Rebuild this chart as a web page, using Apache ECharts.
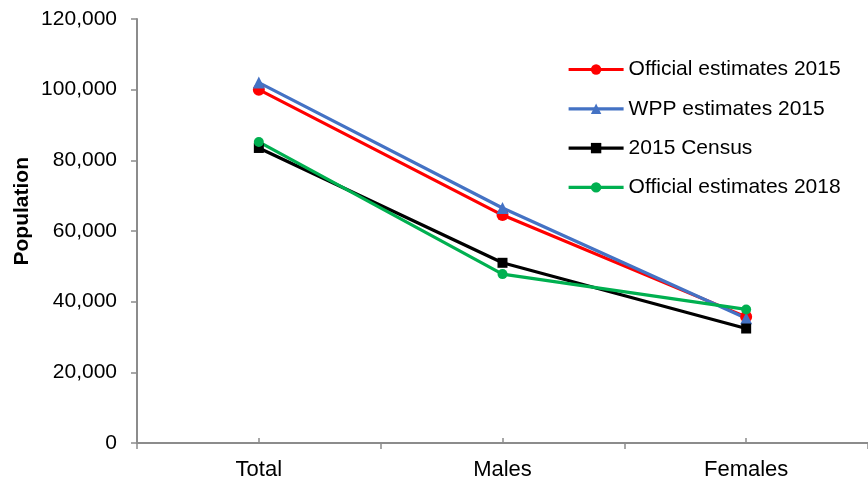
<!DOCTYPE html>
<html><head><meta charset="utf-8">
<script src="https://cdn.jsdelivr.net/npm/echarts@6/dist/echarts.min.js"></script>
<style>html,body{margin:0;padding:0;background:#fff}#c{width:868px;height:483px}</style>
</head><body><div id="c"></div>
<script>
const categories = ['Total', 'Males', 'Females'];
const official2015 = [100000, 64500, 35700];
const wpp2015 = [102000, 66500, 35300];
const census2015 = [83500, 51000, 32400];
const official2018 = [85200, 47800, 37800];
const yTicks = [0, 20000, 40000, 60000, 80000, 100000, 120000];

const font = 'Liberation Sans, Arial, sans-serif';
const chart = echarts.init(document.getElementById('c'));
function s(name, data, color, symbol, size) {
  return { name, type: 'line', data, color, symbol, symbolSize: size,
    lineStyle: { width: 3.2, color }, itemStyle: { color }, animation: false };
}
chart.setOption({
  animation: false,
  grid: { left: 137, right: -2, top: 19, bottom: 40, containLabel: false },
  legend: {
    orient: 'vertical', left: 562, top: 54, itemWidth: 55, itemHeight: 13, itemGap: 18.3,
    lineStyle: { width: 3.2 },
    textStyle: { fontFamily: font, fontSize: 21, color: '#000', lineHeight: 21 },
    data: ['Official estimates 2015', 'WPP estimates 2015', '2015 Census', 'Official estimates 2018']
  },
  graphic: [{
    type: 'text', left: 12, top: 157, rotation: Math.PI / 2,
    style: { text: 'Population', font: 'bold 21px ' + font, fill: '#000' }
  }],
  xAxis: [{
    type: 'category', data: categories, boundaryGap: true,
    axisLine: { lineStyle: { color: '#8c8c8c', width: 2 } },
    axisTick: { show: true, length: 6, lineStyle: { color: '#8c8c8c', width: 1.5 } },
    axisLabel: { fontFamily: font, fontSize: 22, color: '#000', margin: 16 }
  }, {
    type: 'category', data: categories, position: 'bottom', boundaryGap: true,
    axisLine: { show: false },
    axisTick: { show: true, inside: true, alignWithLabel: true, length: 5, lineStyle: { color: '#8c8c8c', width: 1.5 } },
    axisLabel: { show: false }
  }],
  yAxis: {
    type: 'value', min: yTicks[0], max: yTicks[yTicks.length - 1], interval: 20000,
    axisLine: { show: true, lineStyle: { color: '#8c8c8c', width: 2 } },
    axisTick: { show: true, length: 6, lineStyle: { color: '#8c8c8c', width: 1.5 } },
    splitLine: { show: false },
    axisLabel: { fontFamily: font, fontSize: 21, color: '#000', margin: 20,
      formatter: v => v.toLocaleString('en-US') }
  },
  series: [
    s('Official estimates 2015', official2015, '#ff0000', 'circle', 12),
    s('WPP estimates 2015', wpp2015, '#4472c4', 'triangle', 12),
    s('2015 Census', census2015, '#000000', 'rect', 10),
    s('Official estimates 2018', official2018, '#00b050', 'circle', 10)
  ]
});
</script></body></html>
